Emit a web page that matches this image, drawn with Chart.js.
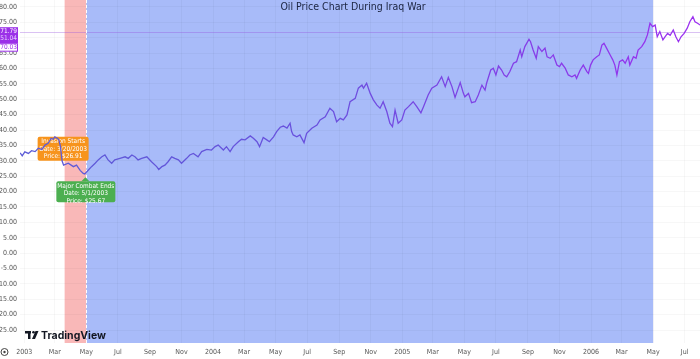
<!DOCTYPE html>
<html>
<head>
<meta charset="utf-8">
<script src="https://cdn.jsdelivr.net/npm/chart.js@4/dist/chart.umd.min.js"></script>
<style>
	html, body { margin: 0; padding: 0; background: #ffffff; }
	canvas { display: block; }
</style>
</head>
<body>
<canvas id="chart" width="700" height="359"></canvas>
<script>

// days since 1 Jan 2003, and the oil price on that day
const days = [-8, -4, 1, 8, 14, 21, 27, 34, 40, 46, 52, 56, 59, 64, 67, 70, 73, 76, 85, 95,
	101, 108, 114, 117, 124, 130, 137, 143, 150, 156, 162, 169, 175, 185, 195, 201, 208, 214, 220, 227,
	237, 246, 256, 260, 266, 272, 278, 285, 291, 298, 304, 314, 320, 327, 336, 343, 353, 362, 369, 375,
	385, 391, 398, 404, 414, 420, 427, 437, 443, 450, 455, 462, 469, 474, 482, 488, 495, 501, 508, 514,
	517, 520, 527, 533, 541, 546, 556, 566, 572, 582, 591, 598, 604, 611, 617, 624, 630, 640, 646, 653,
	656, 662, 669, 675, 682, 688, 694, 701, 707, 712, 717, 723, 730, 736, 743, 752, 759, 767, 772, 781,
	788, 798, 807, 814, 820, 827, 833, 843, 849, 852, 859, 865, 872, 878, 885, 891, 894, 902, 907, 912,
	917, 923, 928, 933, 939, 946, 952, 959, 962, 968, 976, 979, 984, 990, 994, 1001, 1007, 1011, 1017, 1023,
	1030, 1035, 1039, 1046, 1052, 1059, 1065, 1068, 1075, 1081, 1088, 1091, 1095, 1100, 1107, 1112, 1117, 1121, 1126, 1133,
	1138, 1142, 1146, 1151, 1157, 1162, 1168, 1171, 1178, 1183, 1187, 1194, 1200, 1205, 1210, 1215, 1220, 1224, 1229, 1235,
	1239, 1244, 1249, 1255, 1260, 1265, 1270, 1276, 1282, 1287, 1293, 1297, 1302, 1307];

const prices = [32.6, 31.6, 32.9, 32.4, 33.3, 33.0, 34.1, 33.7, 35.1, 35.7, 37.3, 37.0, 37.8, 37.3, 36.8, 34.5, 30.0, 28.6, 29.2, 28.1,
	28.6, 26.9, 25.9, 25.7, 27.0, 28.1, 29.2, 30.3, 31.3, 31.9, 30.3, 29.2, 30.3, 30.8, 31.3, 30.8, 31.9, 31.3, 30.3, 30.8,
	31.3, 29.7, 28.1, 27.2, 28.1, 28.6, 29.7, 31.3, 30.8, 30.3, 29.2, 30.8, 31.9, 32.4, 31.3, 33.0, 33.7, 33.5, 34.6, 35.1,
	33.5, 34.6, 33.0, 34.6, 36.2, 37.0, 36.8, 38.1, 37.3, 36.2, 34.6, 37.6, 36.8, 36.2, 37.8, 39.5, 40.9, 41.3, 40.6, 42.2,
	39.5, 38.4, 37.8, 38.4, 35.9, 38.9, 40.6, 41.6, 43.3, 44.3, 47.1, 46.0, 42.7, 43.8, 43.3, 44.9, 49.2, 50.3, 53.6, 54.6,
	53.6, 55.2, 51.9, 49.8, 48.1, 47.1, 49.2, 46.0, 42.2, 41.1, 46.5, 42.2, 43.3, 46.5, 47.6, 49.2, 47.6, 45.6, 47.6, 51.4,
	53.6, 54.6, 57.3, 54.1, 57.1, 54.1, 50.6, 55.4, 52.0, 50.8, 51.9, 48.9, 49.2, 51.4, 54.6, 53.0, 55.2, 59.5, 60.1, 57.9,
	60.8, 59.5, 57.9, 57.3, 59.0, 61.7, 62.2, 66.0, 63.8, 67.1, 69.5, 68.7, 66.0, 63.3, 67.1, 65.5, 66.6, 63.8, 63.3, 64.4,
	61.1, 60.6, 61.7, 60.1, 57.9, 57.3, 57.9, 56.8, 59.5, 61.1, 59.0, 58.4, 61.1, 62.8, 63.8, 64.4, 67.6, 68.2, 66.6, 64.4,
	62.8, 61.1, 57.9, 62.2, 62.8, 61.7, 63.8, 61.1, 63.8, 63.3, 66.0, 67.1, 68.7, 70.9, 74.7, 73.6, 74.1, 70.3, 72.0, 69.3,
	70.3, 71.4, 70.8, 72.5, 70.3, 68.7, 70.3, 71.4, 73.1, 75.2, 76.8, 75.2, 74.7, 74.1];

// axis ticks
const tickDays = [0, 59, 120, 181, 243, 304, 365, 425, 486, 547, 609, 670, 731, 790, 851, 912, 974, 1035, 1096, 1155, 1216, 1277];
const tickLabels = ['2003', 'Mar', 'May', 'Jul', 'Sep', 'Nov', '2004', 'Mar', 'May', 'Jul', 'Sep', 'Nov',
	'2005', 'Mar', 'May', 'Jul', 'Sep', 'Nov', '2006', 'Mar', 'May', 'Jul'];
const yTicks = [-25, -20, -15, -10, -5, 0, 5, 10, 15, 20, 25, 30, 35, 40, 45, 50, 55, 60, 65, 70, 75, 80];

// events and periods
const invasionDay = 78;       // 3/20/2003
const invasionPrice = 26.91;
const combatEndDay = 120;     // 5/1/2003
const combatEndPrice = 25.67;
const occupationEndDay = 1216; // 5/1/2006
const lastPrice = 71.79;
const sideValues = ['71.79', '51.04', '70.03'];

const title = 'Oil Price Chart During Iraq War';

//
// drawing helpers
//

function drawBox(ctx, x, y, w, h, color, lines) {
	ctx.fillStyle = color;
	ctx.beginPath();
	ctx.roundRect(x, y, w, h, 2);
	ctx.fill();
	ctx.fillStyle = '#ffffff';
	ctx.font = '6.5px "DejaVu Sans Condensed", "DejaVu Sans", sans-serif';
	ctx.textAlign = 'center';
	ctx.textBaseline = 'middle';
	for (let i = 0; i < lines.length; i++) {
		ctx.fillText(lines[i], x + w / 2, y + 5 + i * 7.5);
	}
}

const overlay = {
	id: 'overlay',

	beforeDraw: function(chart) {
		const ctx = chart.ctx;
		const area = chart.chartArea;
		const x = chart.scales.x;
		let x0 = x.getPixelForValue(invasionDay);
		let x1 = x.getPixelForValue(combatEndDay);
		let x2 = x.getPixelForValue(occupationEndDay);
		ctx.save();
		ctx.fillStyle = '#f9b8b8';
		ctx.fillRect(x0, area.top, x1 - x0, area.bottom - area.top);
		ctx.fillStyle = '#a8bbf9';
		ctx.fillRect(x1, area.top, x2 - x1, area.bottom - area.top);
		ctx.restore();
	},

	beforeDatasetsDraw: function(chart) {
		const ctx = chart.ctx;
		const area = chart.chartArea;
		const x = chart.scales.x;
		const y = chart.scales.y;
		ctx.save();

		// last price line
		//
		let py = Math.round(y.getPixelForValue(lastPrice)) + 0.5;
		ctx.strokeStyle = 'rgba(150, 80, 220, 0.35)';
		ctx.lineWidth = 1;
		ctx.beginPath();
		ctx.moveTo(area.left, py);
		ctx.lineTo(area.right, py);
		ctx.stroke();

		// dashed line at end of major combat
		//
		let dx = Math.round(x.getPixelForValue(combatEndDay)) + 0.5;
		ctx.strokeStyle = '#ffffff';
		ctx.setLineDash([3, 2]);
		ctx.beginPath();
		ctx.moveTo(dx, area.top);
		ctx.lineTo(dx, area.bottom);
		ctx.stroke();
		ctx.setLineDash([]);

		// invasion label
		//
		let ix = x.getPixelForValue(invasionDay);
		drawBox(ctx, ix - 27, y.getPixelForValue(37.8), 51, 24, '#f7941d', [
			'Invasion Starts',
			'Date: 3/20/2003',
			'Price: $' + invasionPrice.toFixed(2)
		]);
		ctx.restore();
	},

	afterDraw: function(chart) {
		const ctx = chart.ctx;
		const x = chart.scales.x;
		const y = chart.scales.y;
		ctx.save();

		// combat end label
		//
		let cx = x.getPixelForValue(combatEndDay) - 1;
		let cy = y.getPixelForValue(combatEndPrice) + 3;
		ctx.fillStyle = '#4caf50';
		ctx.beginPath();
		ctx.moveTo(cx - 4, cy + 4);
		ctx.lineTo(cx, cy);
		ctx.lineTo(cx + 4, cy + 4);
		ctx.fill();
		drawBox(ctx, cx - 29, cy + 4, 59, 21, '#4caf50', [
			'Major Combat Ends',
			'Date: 5/1/2003',
			'Price: $' + combatEndPrice.toFixed(2)
		]);

		// title
		//
		ctx.fillStyle = '#1b2440';
		ctx.font = '10.5px "DejaVu Sans Condensed", "DejaVu Sans", sans-serif';
		ctx.textAlign = 'center';
		ctx.textBaseline = 'middle';
		ctx.fillText(title, 353, 7);

		// price labels on the scale
		//
		let py = y.getPixelForValue(lastPrice);
		ctx.fillStyle = '#9b30e8';
		ctx.fillRect(0, py - 5, 18, 16);
		ctx.fillStyle = '#ffffff';
		ctx.strokeStyle = '#9b30e8';
		ctx.lineWidth = 1;
		ctx.fillRect(0, py + 11, 18, 8);
		ctx.strokeRect(-1, py + 11.5, 18.5, 7.5);
		ctx.font = '6.5px "DejaVu Sans Condensed", "DejaVu Sans", sans-serif';
		ctx.textAlign = 'right';
		ctx.fillStyle = '#ffffff';
		ctx.fillText(sideValues[0], 17, py - 1);
		ctx.fillStyle = '#e6ccff';
		ctx.fillText(sideValues[1], 17, py + 6.5);
		ctx.fillStyle = '#9b30e8';
		ctx.fillText(sideValues[2], 17, py + 15);

		// scale icon
		//
		ctx.strokeStyle = '#444';
		ctx.lineWidth = 1;
		ctx.beginPath();
		ctx.arc(4.5, 352, 3.5, 0, Math.PI * 2);
		ctx.stroke();
		ctx.fillStyle = '#444';
		ctx.beginPath();
		ctx.arc(4.5, 352, 1.2, 0, Math.PI * 2);
		ctx.fill();

		// logo
		//
		ctx.fillStyle = '#131722';
		ctx.fillRect(25, 331, 6, 2.5);
		ctx.fillRect(28, 331, 2.5, 8);
		ctx.beginPath();
		ctx.arc(33.5, 332.3, 1.3, 0, Math.PI * 2);
		ctx.fill();
		ctx.beginPath();
		ctx.moveTo(35.5, 331);
		ctx.lineTo(38.5, 331);
		ctx.lineTo(35, 339);
		ctx.lineTo(32, 339);
		ctx.fill();
		ctx.font = 'bold 10.5px Inter, "Noto Sans", sans-serif';
		ctx.textAlign = 'left';
		ctx.fillText('TradingView', 41, 335.5);
		ctx.restore();
	}
};

//
// chart
//

const ctx = document.getElementById('chart').getContext('2d');

const gradient = ctx.createLinearGradient(20, 0, 700, 0);
gradient.addColorStop(0, '#5c5cd6');
gradient.addColorStop(0.45, '#6a50de');
gradient.addColorStop(1, '#9c2ff0');

const chart = new Chart(ctx, {
	type: 'line',
	data: {
		datasets: [{
			label: 'Oil Price',
			data: days.map((d, i) => ({ x: d, y: prices[i] })),
			borderColor: gradient,
			borderWidth: 1.3,
			pointRadius: 0,
			tension: 0,
			fill: false
		}]
	},
	options: {
		responsive: false,
		animation: false,
		layout: {
			padding: 0
		},
		plugins: {
			legend: {
				display: false
			},
			tooltip: {
				enabled: false
			}
		},
		scales: {
			x: {
				type: 'linear',
				min: -8.3,
				max: 1306.7,
				afterBuildTicks: function(scale) {
					scale.ticks = tickDays.map(v => ({ value: v }));
				},
				afterFit: function(scale) {
					scale.height = 16;
					scale.paddingLeft = 0;
					scale.paddingRight = 0;
				},
				grid: {
					color: 'rgba(0, 0, 0, 0.03)',
					drawTicks: false
				},
				border: {
					display: false
				},
				ticks: {
					autoSkip: false,
					maxRotation: 0,
					padding: 5,
					color: '#555',
					font: {
						size: 7,
						family: '"DejaVu Sans Condensed", "DejaVu Sans", sans-serif'
					},
					callback: function(value) {
						let i = tickDays.indexOf(value);
						return i >= 0 ? tickLabels[i] : '';
					}
				}
			},
			y: {
				type: 'linear',
				position: 'left',
				min: -29.2,
				max: 82.25,
				afterBuildTicks: function(scale) {
					scale.ticks = yTicks.map(v => ({ value: v }));
				},
				afterFit: function(scale) {
					scale.width = 20;
					scale.paddingTop = 0;
					scale.paddingBottom = 0;
				},
				grid: {
					color: 'rgba(0, 0, 0, 0.03)',
					drawTicks: false
				},
				border: {
					display: false
				},
				ticks: {
					padding: 3,
					color: '#555',
					font: {
						size: 7,
						family: '"DejaVu Sans Condensed", "DejaVu Sans", sans-serif'
					},
					callback: function(value) {
						return value.toFixed(2);
					}
				}
			}
		}
	},
	plugins: [overlay]
});
</script>
</body>
</html>
